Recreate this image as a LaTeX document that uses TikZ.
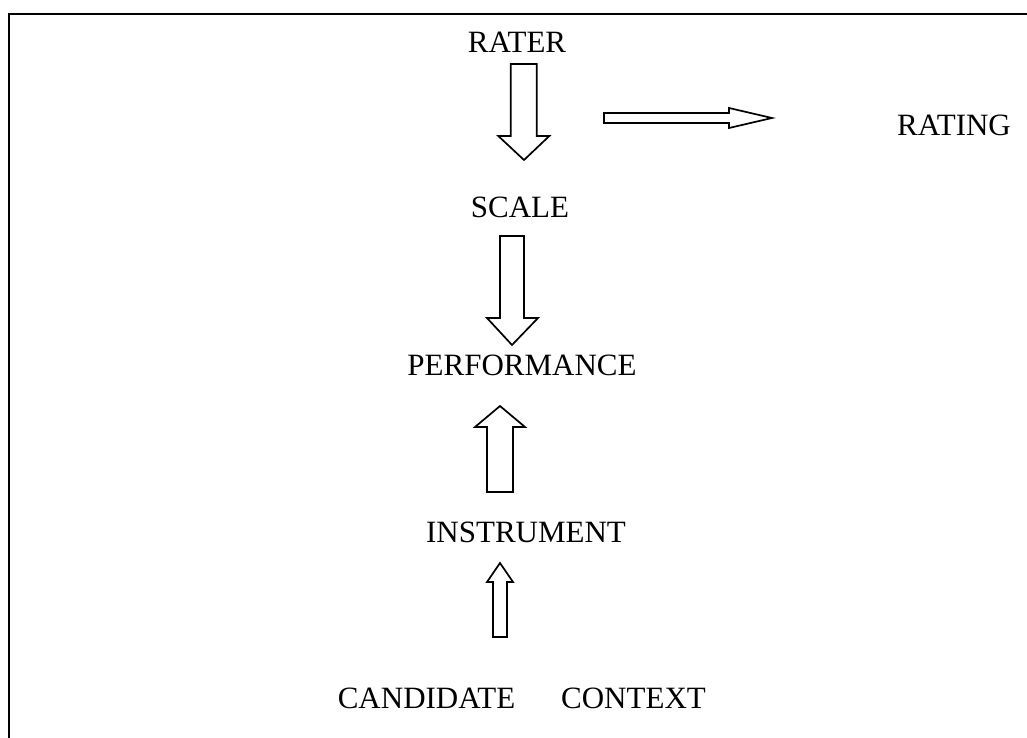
\documentclass[tikz,border=0pt]{standalone}
\usepackage{fontspec}
\setmainfont{Liberation Serif}
\begin{document}
\begin{tikzpicture}[x=1pt,y=-1pt,
  lbl/.style={anchor=base,inner sep=0pt,font=\fontsize{31}{36}\selectfont},
  blockarrow/.style={draw=black,fill=white,line width=1.7pt,line join=miter}]
\useasboundingbox (0,0) rectangle (1027,738);
\clip (0,0) rectangle (1027,738);
% frame (cut off at right and bottom)
\draw[line width=2pt] (8.5,760) -- (8.5,14) -- (1040,14);
% labels
\node[lbl] (rater) at (517,53) {RATER};
\node[lbl] (scale) at (520,217) {SCALE};
\node[lbl] (perf) at (522,375) {PERFORMANCE};
\node[lbl] (instr) at (526,542) {INSTRUMENT};
\node[lbl] (rating) at (954,136) {RATING};
\node[lbl] (cand) at (426.5,708) {CANDIDATE};
\node[lbl] (ctx) at (633.5,708) {CONTEXT};
% RATER -> SCALE
\draw[blockarrow] (510.7,64) -- (536.7,64) -- (536.7,136) -- (549.3,136) -- (524,160)
  -- (498.3,136) -- (510.7,136) -- cycle;
% -> RATING
\draw[blockarrow] (604,113) -- (729,113) -- (729,108) -- (772,118) -- (729,128)
  -- (729,123) -- (604,123) -- cycle;
% SCALE -> PERFORMANCE
\draw[blockarrow] (500,236) -- (524,236) -- (524,318) -- (538,318) -- (512,345)
  -- (487,318) -- (500,318) -- cycle;
% INSTRUMENT -> PERFORMANCE
\draw[blockarrow] (487,492) -- (513,492) -- (513,427) -- (525,427) -- (500,406)
  -- (475,427) -- (487,427) -- cycle;
% CANDIDATE/CONTEXT -> INSTRUMENT
\draw[blockarrow] (493,637) -- (507,637) -- (507,582) -- (513,582) -- (500,563)
  -- (487,582) -- (493,582) -- cycle;
\end{tikzpicture}
\end{document}
